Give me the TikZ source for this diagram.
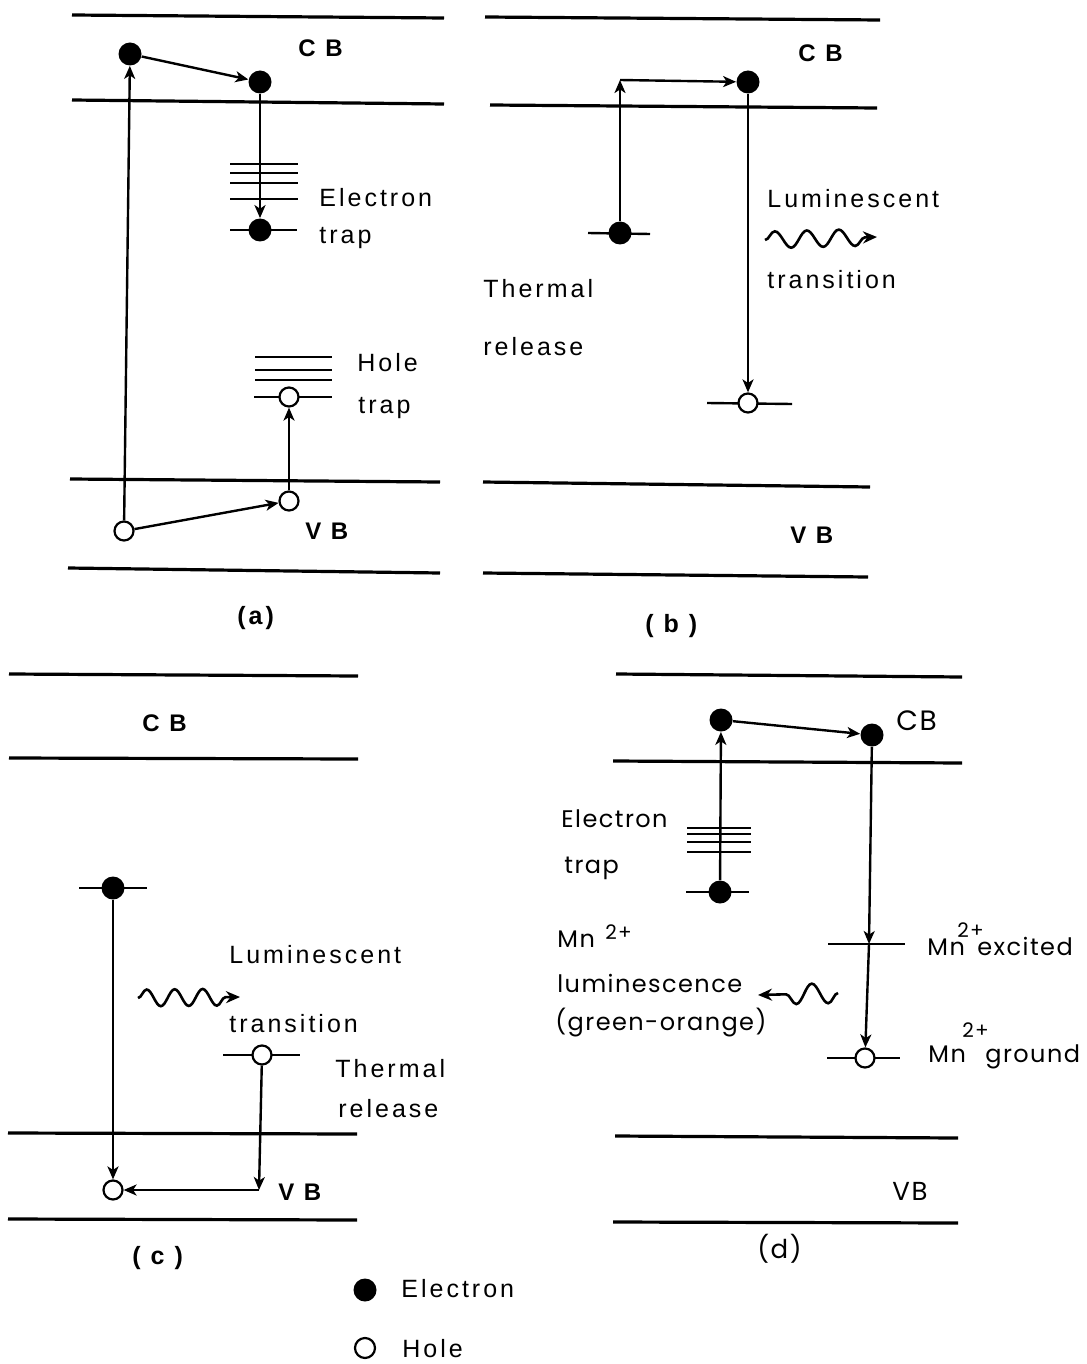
\documentclass[tikz,border=0pt]{standalone}
\usepackage{fontspec}
\setmainfont{Liberation Sans}[LetterSpace=12]
\newfontfamily\dfont{Poppins}[LetterSpace=6]
\usetikzlibrary{arrows.meta,decorations.pathmorphing}
\begin{document}
\begin{tikzpicture}[x=0.5pt,y=-0.5pt,
  band/.style={line width=1.6pt},
  lvl/.style={line width=1.2pt},
  arr/.style={line width=1.2pt,-{Stealth[length=6.5pt,width=5.5pt,inset=1.8pt]}},
  elec/.style={circle,fill=black,inner sep=0pt,minimum size=11.5pt},
  hole/.style={circle,draw,fill=white,line width=1.1pt,inner sep=0pt,minimum size=9.5pt},
  txt/.style={font=\fontsize{12.5}{15}\selectfont,anchor=base west,inner sep=0pt},
  btxt/.style={font=\fontsize{12}{14}\selectfont\bfseries,anchor=base west,inner sep=0pt},
  ltxt/.style={font=\fontsize{12.5}{14}\selectfont\bfseries,anchor=base west,inner sep=0pt},
  dtxt/.style={font=\dfont\fontsize{12}{14}\selectfont,anchor=base west,inner sep=0pt},
  dsup/.style={font=\dfont\fontsize{10}{12}\selectfont,anchor=base west,inner sep=0pt},
  wave/.style={line width=1.3pt,decorate,decoration={snake,segment length=16pt,amplitude=4.2pt,post length=6pt}},
  wtip/.style={-{Stealth[length=7pt,width=6pt]}}
]
\useasboundingbox (0,0) rectangle (1086,1364);

% ---------------- panel (a) ----------------
\draw[band] (72,15) -- (444,18);
\draw[band] (72,100) -- (444,104);
\draw[band] (70,479) -- (440,482);
\draw[band] (68,568) -- (440,573);
\foreach \y in {164,173,183,199} \draw[lvl] (230,\y) -- (298,\y);
\draw[lvl] (230,230) -- (297,230);
\foreach \y in {357,370,380} \draw[lvl] (255,\y) -- (332,\y);
\draw[lvl] (254,397) -- (332,397);
\node[elec] (ae1) at (130,54) {};
\node[elec] (ae2) at (260,82) {};
\node[elec] (ae3) at (260,230) {};
\node[hole] (ah1) at (124,531) {};
\node[hole] (ah2) at (289,501) {};
\node[hole] (ah3) at (289,397) {};
\draw[arr] (ah1) -- (ae1);
\draw[arr] (ae1) -- (ae2);
\draw[arr] (ae2) -- (ae3);
\draw[arr] (ah1) -- (ah2);
\draw[arr] (ah2) -- (ah3);
\node[btxt] (aCB) at (298,57) {C B};
\node[txt] (aEl) at (319,206) {Electron};
\node[txt] (aTr) at (319,243) {trap};
\node[txt] (aHo) at (357,371) {Hole};
\node[txt] (aHt) at (358,413) {trap};
\node[btxt] (aVB) at (305,539) {V B};
\node[ltxt] (aLab) at (237,624) {(a)};

% ---------------- panel (b) ----------------
\draw[band] (485,17) -- (880,20);
\draw[band] (490,105) -- (877,108);
\draw[band] (483,482) -- (870,487);
\draw[band] (483,573) -- (868,577);
\draw[lvl] (588,233) -- (650,234);
\draw[lvl] (707,403) -- (792,404);
\node[elec] (be1) at (620,233) {};
\node[elec] (be2) at (748,82) {};
\node[hole] (bh1) at (748,403) {};
\coordinate (bc) at (620,80);
\draw[arr] (be1) -- (bc);
\draw[arr] (bc) -- (be2);
\draw[arr] (be2) -- (bh1);
\coordinate (bw1) at (765,240);
\coordinate (bw2) at (877,237);
\draw[wave,wtip] (bw1) -- (bw2);
\node[btxt] (bCB) at (798,62) {C B};
\node[txt] (bLu) at (767,208) {Luminescent};
\node[txt] (bTr) at (767,288) {transition};
\node[txt] (bTh) at (483,297) {Thermal};
\node[txt] (bRe) at (483,355) {release};
\node[btxt] (bVB) at (790,543) {V B};
\node[ltxt] (bLab) at (645,632) {( b )};

% ---------------- panel (c) ----------------
\draw[band] (9,674) -- (358,676);
\draw[band] (9,758) -- (358,759);
\draw[band] (8,1133) -- (357,1134);
\draw[band] (8,1219) -- (357,1220);
\draw[lvl] (79,888) -- (147,888);
\draw[lvl] (223,1055) -- (300,1055);
\node[elec] (ce1) at (113,888) {};
\node[hole] (ch1) at (262,1055) {};
\node[hole] (ch2) at (113,1190) {};
\coordinate (cc) at (259,1190);
\draw[arr] (ce1) -- (ch2);
\draw[arr] (ch1) -- (cc);
\draw[arr] (cc) -- (ch2);
\coordinate (cw1) at (138,998);
\coordinate (cw2) at (240,997);
\draw[wave,wtip,decoration={segment length=14pt}] (cw1) -- (cw2);
\node[btxt] (cCB) at (142,731) {C B};
\node[txt] (cLu) at (229,963) {Luminescent};
\node[txt] (cTr) at (229,1032) {transition};
\node[txt] (cTh) at (335,1077) {Thermal};
\node[txt] (cRe) at (338,1117) {release};
\node[btxt] (cVB) at (278,1200) {V B};
\node[ltxt] (cLab) at (132,1264) {( c )};

% ---------------- panel (d) ----------------
\draw[band] (616,674) -- (962,677);
\draw[band] (613,761) -- (962,763);
\draw[band] (615,1136) -- (958,1138);
\draw[band] (613,1222) -- (958,1223);
\foreach \y in {828,834,842,852} \draw[lvl] (687,\y) -- (751,\y);
\draw[lvl] (686,892) -- (749,892);
\draw[lvl] (828,944) -- (905,944);
\draw[lvl] (827,1058) -- (900,1058);
\node[elec] (de1) at (720,892) {};
\node[elec] (de2) at (721,720) {};
\node[elec] (de3) at (872,735) {};
\node[hole] (dh1) at (865,1058) {};
\coordinate (dx) at (869,944);
\draw[arr] (de1) -- (de2);
\draw[arr] (de2) -- (de3);
\draw[arr] (de3) -- (dx);
\draw[arr] (dx) -- (dh1);
\coordinate (dw1) at (838,993);
\coordinate (dw2) at (758,995);
\draw[wave,wtip,decoration={post length=10pt,amplitude=5pt}] (dw1) -- (dw2);
\node[dtxt,font=\dfont\fontsize{14}{16}\selectfont] (dCB) at (896,730) {CB};
\node[dtxt] (dEl) at (561,827) {Electron};
\node[dtxt] (dTr) at (564,873) {trap};
\node[dtxt] (dMn) at (557,947) {Mn};
\node[dsup] (dMs) at (605,939) {2+};
\node[dtxt] (dLu) at (557,992) {luminescence};
\node[dtxt] (dGo) at (555,1030) {(green-orange)};
\node[dtxt] (dMe) at (927,955) {Mn};
\node[dsup] (dMes) at (957,937) {2+};
\node[dtxt] (dEx) at (977,955) {excited};
\node[dtxt] (dMg) at (928,1062) {Mn};
\node[dsup] (dMgs) at (962,1037) {2+};
\node[dtxt] (dGr) at (985,1062) {ground};
\node[dtxt,font=\dfont\fontsize{13}{15}\selectfont] (dVB) at (892,1200) {VB};
\node[dtxt,font=\dfont\fontsize{13}{15}\selectfont] (dLab) at (757,1258) {(d)};

% ---------------- legend ----------------
\node[elec,minimum size=11.5pt] (le) at (365,1290) {};
\node[hole,minimum size=10pt] (lh) at (365,1348) {};
\node[txt] (lEl) at (401,1297) {Electron};
\node[txt] (lHo) at (402,1357) {Hole};
\end{tikzpicture}
\end{document}
